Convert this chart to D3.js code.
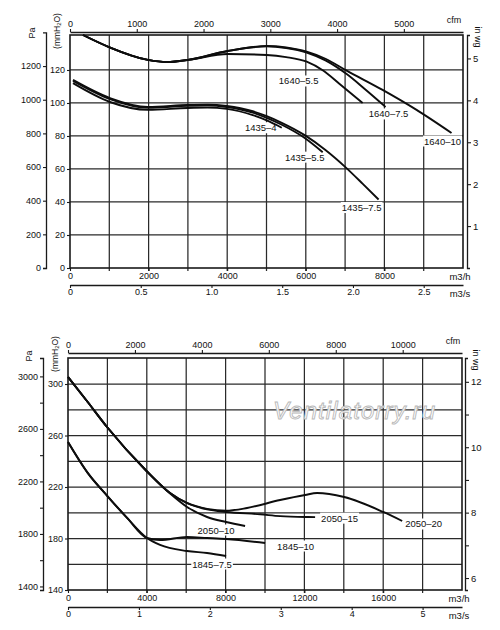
<!DOCTYPE html>
<html><head><meta charset="utf-8">
<script src="https://cdn.jsdelivr.net/npm/d3@7"></script>
<style>
body{margin:0;background:#fff;}
svg{display:block;}
</style></head><body>
<svg id="c" width="500" height="630"></svg>
<script>
// ================= DATA =================
// Top chart: flow in m3/h, pressure in mmH2O
const topFlowTicks = [0, 2000, 4000, 6000, 8000];
const topFlowGrid = [1000, 2000, 3000, 4000, 5000, 6000, 7000, 8000, 9000];
const topCfmTicks = [0, 1000, 2000, 3000, 4000, 5000];
const topM3sTicks = [0, 0.5, 1.0, 1.5, 2.0, 2.5];
const topMmTicks = [0, 20, 40, 60, 80, 100, 120];
const topPaTicks = [0, 200, 400, 600, 800, 1000, 1200];
const topInwgTicks = [1, 2, 3, 4, 5];

const s1640_10 = [[330,141.2],[991,133.9],[1982,126.1],[2465,124.8],[2999,126.1],[4015,131.5],[5006,134.5],[5500,133.6],[6023,131.1],[6500,126.8],[7040,119.6],[7954,107.9],[8818,95.8],[9708,81.8]];
const s1640_7_5 = [[330,141.2],[991,133.9],[1982,126.1],[2465,124.8],[2999,126.1],[4015,131.5],[5006,134.3],[5500,133.3],[6023,130.6],[6500,125.8],[7040,117.5],[7500,108.5],[8030,97.6]];
const s1640_5_5 = [[330,141.2],[991,133.9],[1982,126.1],[2465,124.8],[2999,126.1],[4015,129.7],[5006,129.1],[5500,127.8],[6023,125],[6450,119.5],[6861,111.5],[7446,100.0]];
const s1435_7_5 = [[76,114],[1017,103],[1982,97.6],[2999,98.8],[3500,99.0],[3990,98.2],[4650,95],[5006,92],[5388,88],[5972,80.5],[6500,71.5],[7014,61],[7450,51],[7853,41.5]];
const s1435_5_5 = [[76,113.4],[1017,102.4],[1982,97.1],[2999,98.3],[3500,98.5],[3990,97.6],[4650,94.2],[5006,91],[5388,86.8],[5972,78.8],[6430,70.2]];
const s1435_4 = [[76,112],[1017,100.6],[1982,95.8],[2999,97],[3500,97.2],[3990,96.4],[4650,92.6],[5006,89.4],[5388,85]];

const topSeries = [
  {name: "1640–10", values: s1640_10},
  {name: "1640–7.5", values: s1640_7_5},
  {name: "1640–5.5", values: s1640_5_5},
  {name: "1435–7.5", values: s1435_7_5},
  {name: "1435–5.5", values: s1435_5_5},
  {name: "1435–4", values: s1435_4}
];

// Bottom chart: flow in m3/h, pressure in mmH2O
const botFlowTicks = [0, 4000, 8000, 12000, 16000];
const botFlowGrid = [2000, 4000, 6000, 8000, 10000, 12000, 14000, 16000, 18000];
const botCfmTicks = [0, 2000, 4000, 6000, 8000, 10000];
const botM3sTicks = [0, 1, 2, 3, 4, 5];
const botMmTicks = [140, 180, 220, 260, 300];
const botMmGrid = [160, 180, 200, 220, 240, 260, 280, 300];
const botPaTicks = [1400, 1600, 1800, 2000, 2200, 2400, 2600, 2800, 3000];
const botPaLabels = [1400, 1800, 2200, 2600, 3000];
const botInwgTicks = [6, 7, 8, 9, 10, 11, 12];
const botInwgLabels = [6, 8, 10, 12];

const s2050_20 = [[0,305.4],[1000,286],[1981,266.6],[3950,233],[5180,215.3],[6044,207.6],[7059,203],[8024,201.6],[9091,203.7],[10767,209.9],[12037,213.8],[12646,215.3],[14017,212.2],[15998,200.6],[16963,193.6]];
const s2050_15 = [[0,305.4],[1000,286],[1981,266.6],[3950,233],[5180,215.3],[6044,207.4],[7059,202.6],[8024,200.6],[9751,198.8],[10767,197.4],[12037,196.7],[12544,196.6]];
const s2050_10 = [[0,305.4],[1000,286],[1981,266.6],[3950,233],[5180,215],[6044,204.5],[7059,196.7],[8024,192.8],[8989,189.7]];
const s1845_10 = [[0,255],[1000,231],[2000,213],[3000,196],[4012,180.4],[4672,178.8],[6044,181.2],[7059,180.4],[8024,179.6],[10005,176.5]];
const s1845_7_5 = [[0,255],[1000,231],[2000,213],[3000,196],[4012,180.4],[4672,175],[6044,170.3],[7059,168.7],[8024,166.4]];

const botSeries = [
  {name: "2050–20", values: s2050_20},
  {name: "2050–15", values: s2050_15},
  {name: "2050–10", values: s2050_10},
  {name: "1845–10", values: s1845_10},
  {name: "1845–7.5", values: s1845_7_5}
];

// ================= DRAWING =================
const FONT = '"Liberation Sans", Arial, Helvetica, sans-serif';
const PA_PER_MM = 9.80665, MM_PER_INWG = 25.4, M3H_PER_CFM = 1.699, M3H_PER_M3S = 3600;
const svg = d3.select("#c").attr("font-family", FONT);
const INK = "#1a1a1a";
const fmtInt = d3.format("d");

function styleAxis(sel, fs) {
  sel.attr("font-family", FONT).attr("font-size", fs);
  sel.select(".domain").attr("stroke", INK).attr("stroke-width", 1.3);
  sel.selectAll(".tick line").attr("stroke", INK).attr("stroke-width", 1.1);
  sel.selectAll(".tick text").attr("fill", "#111");
}

function rotLabel(g, x, y, rot, txt, fs, sub) {
  const t = g.append("text").attr("transform", `translate(${x},${y}) rotate(${rot})`)
    .attr("text-anchor", "middle").attr("dominant-baseline", "central")
    .attr("font-size", fs).attr("fill", "#111");
  if (sub) {
    t.append("tspan").text(txt[0]);
    t.append("tspan").text(txt[1]).attr("font-size", fs * 0.7).attr("dy", 2);
    t.append("tspan").text(txt[2]).attr("dy", -2);
  } else t.text(txt);
}

function curveLabel(g, txt, px, py, anchor) {
  const t = g.append("text").attr("x", px).attr("y", py).attr("text-anchor", anchor)
    .attr("dominant-baseline", "central").attr("font-size", 9.5).attr("fill", "#111").text(txt);
  const bb = t.node().getBBox();
  g.insert("rect", () => t.node()).attr("x", bb.x - 1).attr("y", bb.y)
    .attr("width", bb.width + 2).attr("height", bb.height).attr("fill", "#fff");
}

function drawChart(o) {
  const g = svg.append("g");
  const x = d3.scaleLinear().domain([0, o.xMax]).range([o.left, o.right]);
  const y = d3.scaleLinear().domain([o.yMin, o.yMax]).range([o.bottom, o.top]);

  // grid
  g.append("g").selectAll("line").data(o.xGrid).join("line")
    .attr("x1", d => x(d)).attr("x2", d => x(d)).attr("y1", o.top).attr("y2", o.bottom + 3)
    .attr("stroke", "#2a2a2a").attr("stroke-width", 1.25);
  g.append("g").selectAll("line").data(o.yGrid).join("line")
    .attr("x1", o.left).attr("x2", o.right).attr("y1", d => y(d)).attr("y2", d => y(d))
    .attr("stroke", "#2a2a2a").attr("stroke-width", 1.25);

  if (o.watermark) {
    g.append("text").attr("x", o.watermark.x).attr("y", o.watermark.y)
      .attr("font-size", 24).attr("font-style", "italic").attr("font-family", FONT)
      .attr("textLength", 162).attr("lengthAdjust", "spacing")
      .attr("fill", "#fff").attr("stroke", "#b8b8b8").attr("stroke-width", 0.9)
      .text(o.watermark.text);
  }

  // frame
  g.append("rect").attr("x", o.left).attr("y", o.top).attr("width", o.right - o.left)
    .attr("height", o.bottom - o.top).attr("fill", "none").attr("stroke", INK).attr("stroke-width", 1.6);

  // m3/h axis (bottom of plot)
  const ax1 = g.append("g").attr("transform", `translate(0,${o.bottom})`)
    .call(d3.axisBottom(x).tickValues(o.flowTicks).tickSize(3).tickPadding(2).tickSizeOuter(0).tickFormat(fmtInt));
  styleAxis(ax1, 9); ax1.select(".domain").remove();

  // m3/s axis
  const xs = d3.scaleLinear().domain([0, o.xMax / M3H_PER_M3S]).range([o.left, o.right]);
  const ax2 = g.append("g").attr("transform", `translate(0,${o.m3sY})`)
    .call(d3.axisBottom(xs).tickValues(o.m3sTicks).tickSize(3).tickPadding(1).tickSizeOuter(0)
      .tickFormat(o.m3sFormat));
  styleAxis(ax2, 9);

  // cfm axis (top)
  const xc = d3.scaleLinear().domain([0, o.xMax / M3H_PER_CFM]).range([o.left, o.right]);
  const ax3 = g.append("g").attr("transform", `translate(0,${o.cfmY})`)
    .call(d3.axisTop(xc).tickValues(o.cfmTicks).tickSize(3).tickPadding(2).tickSizeOuter(0).tickFormat(fmtInt));
  styleAxis(ax3, 9);

  // mmH2O axis
  const ax4 = g.append("g").attr("transform", `translate(${o.left},0)`)
    .call(d3.axisLeft(y).tickValues(o.mmTicks).tickSize(3).tickPadding(2).tickSizeOuter(0).tickFormat(fmtInt));
  styleAxis(ax4, 9); ax4.select(".domain").remove();

  // Pa axis
  const yPa = d3.scaleLinear().domain([o.yMin * PA_PER_MM, o.yMax * PA_PER_MM]).range([o.bottom, o.top]);
  const paTop = o.paTop !== undefined ? yPa(o.paTop) : o.top;
  const yPaAxis = d3.scaleLinear().domain([o.yMin * PA_PER_MM, yPa.invert(paTop)]).range([o.bottom, paTop]);
  const ax5 = g.append("g").attr("transform", `translate(${o.paX},0)`)
    .call(d3.axisLeft(yPaAxis).tickValues(o.paTicks).tickSize(3).tickPadding(2).tickSizeOuter(3)
      .tickFormat(d => (o.paLabels ? (o.paLabels.includes(d) ? fmtInt(d) : "") : fmtInt(d))));
  styleAxis(ax5, 9);

  // in wg axis
  const yIn = d3.scaleLinear().domain([o.yMin / MM_PER_INWG, o.yMax / MM_PER_INWG])
    .range([o.bottom + o.inwgShift, o.top + o.inwgShift]);
  const yInAxis = d3.scaleLinear().domain([yIn.invert(o.bottom), yIn.invert(o.top)]).range([o.bottom, o.top]);
  const ax6 = g.append("g").attr("transform", `translate(${o.inwgX},0)`)
    .call(d3.axisRight(yInAxis).tickValues(o.inwgTicks).tickSize(4).tickPadding(2).tickSizeOuter(3)
      .tickFormat(d => (o.inwgLabels ? (o.inwgLabels.includes(d) ? fmtInt(d) : "") : fmtInt(d))));
  styleAxis(ax6, 9.5);

  // unit labels
  g.append("text").attr("x", o.right - 9).attr("y", o.cfmY - 9).attr("text-anchor", "middle")
    .attr("font-size", 9).attr("fill", "#111").text("cfm");
  g.append("text").attr("x", o.right - 3).attr("y", o.bottom + 8.5).attr("text-anchor", "middle")
    .attr("dominant-baseline", "central").attr("font-size", 9.5).attr("fill", "#111").text("m3/h");
  g.append("text").attr("x", o.right - 3).attr("y", o.m3sY + 8).attr("text-anchor", "middle")
    .attr("dominant-baseline", "central").attr("font-size", 9.5).attr("fill", "#111").text("m3/s");
  rotLabel(g, o.paX - 14, o.top - 2, -90, "Pa", 9);
  rotLabel(g, o.left - 13, o.top - 4, -90, ["(mmH", "2", "O)"], 8.5, true);
  rotLabel(g, o.inwgX + 11, o.top + 2, 90, "in wg", 9);

  // curve labels (with white background)
  const lg = g.append("g");
  o.series.forEach((s, i) => {
    const last = s.values[s.values.length - 1];
    const p = o.labelPlace[i];
    curveLabel(lg, s.name, x(last[0]) + p.dx, y(last[1]) + p.dy, p.anchor);
  });

  // curves
  const line = d3.line().x(d => x(d[0])).y(d => y(d[1])).curve(d3.curveMonotoneX);
  g.append("g").selectAll("path").data(o.series).join("path")
    .attr("d", d => line(d.values)).attr("fill", "none")
    .attr("stroke", "#0d0d0d").attr("stroke-width", 1.9).attr("stroke-linejoin", "round");
}

drawChart({
  left: 70, right: 463, top: 35, bottom: 268,
  xMax: 10000, yMin: 0, yMax: 141.2,
  xGrid: topFlowGrid, yGrid: topMmTicks.filter(d => d > 0),
  flowTicks: topFlowTicks, m3sTicks: topM3sTicks, m3sY: 285,
  m3sFormat: d => d === 0 ? "0" : d3.format(".1f")(d),
  cfmTicks: topCfmTicks, cfmY: 32,
  mmTicks: topMmTicks,
  paX: 46, paTicks: topPaTicks, paTop: 1400,
  inwgX: 467, inwgTicks: topInwgTicks, inwgShift: 0,
  series: topSeries,
  labelPlace: [
    {dx: -9, dy: 8, anchor: "middle"},
    {dx: 3, dy: 7, anchor: "middle"},
    {dx: -64, dy: -22, anchor: "middle"},
    {dx: -17, dy: 8, anchor: "middle"},
    {dx: -18, dy: 5, anchor: "middle"},
    {dx: -21, dy: 0, anchor: "middle"}
  ]
});

drawChart({
  left: 68, right: 462, top: 358, bottom: 590,
  xMax: 20000, yMin: 140, yMax: 320.2,
  xGrid: botFlowGrid, yGrid: botMmGrid,
  flowTicks: botFlowTicks, m3sTicks: botM3sTicks, m3sY: 607,
  m3sFormat: d => fmtInt(d),
  cfmTicks: botCfmTicks, cfmY: 353,
  mmTicks: botMmTicks,
  paX: 43, paTicks: botPaTicks, paLabels: botPaLabels,
  inwgX: 465, inwgTicks: botInwgTicks, inwgLabels: botInwgLabels, inwgShift: 4,
  series: botSeries,
  watermark: {x: 273, y: 419, text: "Ventilatorry.ru"},
  labelPlace: [
    {dx: 3, dy: 3, anchor: "start"},
    {dx: 6, dy: 1, anchor: "start"},
    {dx: -29, dy: 4, anchor: "middle"},
    {dx: 12, dy: 3, anchor: "start"},
    {dx: -14, dy: 8, anchor: "middle"}
  ]
});
</script>
</body></html>
